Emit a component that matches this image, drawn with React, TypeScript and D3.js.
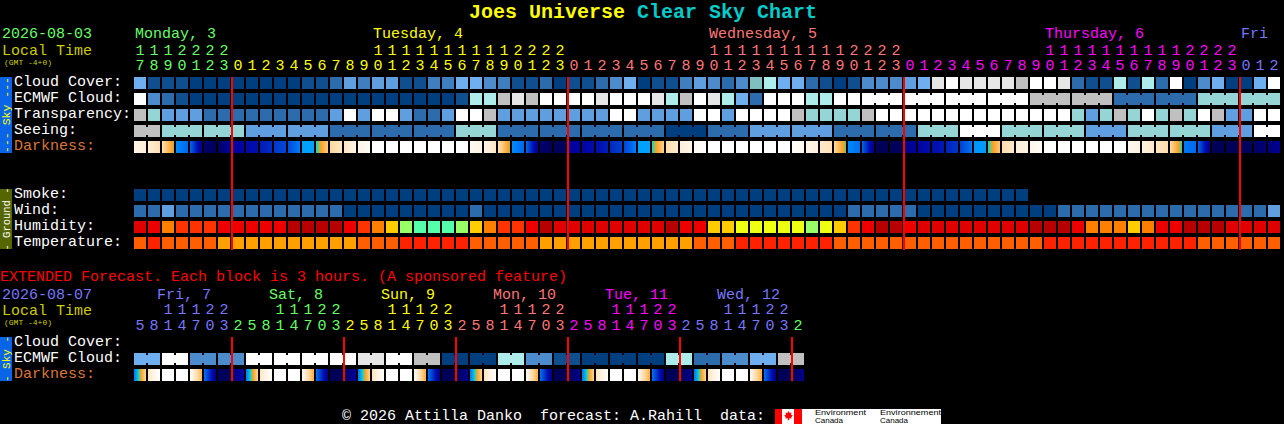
import * as d3 from "d3";

const width = 1284;
const height = 424;

// cloud / transparency / seeing share one palette, index = level in the arrays below
const skyPalette = [
  "#003f7f", "#0f4f8f", "#2c6cad", "#3f7fbf", "#4c8ccc", "#5f9fdf", "#6fafef",
  "#7fbfbf", "#95d5d5", "#aeecec", "#c0c0c0", "#e6e6e6", "#ffffff",
];
const humidityPalette = ["#b80000", "#e00000", "#ee0000", "#ff3300", "#ff8000", "#ffcc00", "#eeff11", "#99ff66", "#55ffaa"];
const temperaturePalette = ["#ff2200", "#ff5f00", "#ffa000"];

const cloudCover = [
  6, 1, 1, 1, 0, 0, 0, 0, 0, 0, 0, 0, 1, 1, 2, 5, 3, 5, 5, 1, 1,
  3, 3, 6, 6, 4, 3, 1, 1, 2, 0, 1, 1, 2, 4, 6, 0, 1, 1, 3, 5, 4, 2, 4, 7, 9, 6, 6, 2, 1, 0, 1,
  4, 4, 4, 5, 6, 11, 12, 11, 11, 11, 11, 10, 12, 12, 11, 2, 1, 1, 9, 1, 9, 2, 12, 0, 4, 6, 0, 0, 6, 12,
];
const ecmwfHourly = [
  12, 4, 2, 1, 0, 0, 0, 0, 0, 0, 0, 0, 0, 0, 0, 0, 0, 0, 0, 0, 0, 0, 0, 1, 9, 9,
  10, 11, 10, 12, 12, 12, 12, 11, 12, 12, 12, 11, 9, 10, 12, 11, 9, 6, 2, 12, 12, 12, 9, 9, 12, 12,
];
const ecmwfBlocks = [12, 12, 12, 12, 10, 10, 2, 2, 8, 8];
const transparency = [
  10, 8, 5, 5, 5, 2, 2, 2, 2, 2, 2, 2, 2, 2, 5, 12, 5, 12, 12, 5, 2,
  2, 5, 12, 12, 10, 5, 5, 5, 5, 5, 5, 5, 5, 12, 12, 5, 5, 5, 5, 12, 12, 5, 12, 12, 12, 12, 10, 8, 8, 8, 8,
  10, 12, 12, 12, 12, 12, 12, 12, 12, 12, 12, 12, 12, 12, 12, 8, 5, 8, 10, 8, 12, 8, 10, 8, 12, 10, 5, 5, 12, 12,
];
const seeingBlocks = [10, 8, 8, 5, 5, 2, 2, 2, 8, 2, 2, 2, 2, 0, 2, 5, 5, 2, 2, 8, 12, 8, 8, 5, 8, 8, 5, 12];
const seeingSizes = [2, 3, 3, 3, 3, 3, 3, 3, 3, 3, 3, 3, 3, 3, 3, 3, 3, 3, 3, 3, 3, 3, 3, 3, 3, 3, 3, 2];

// darkness value at the left and right edge of every block, 0 = deep night, 10 = daylight
const darkFrom = [
  9.3, 8.9, 8.3, 4.6, 4.0, 0.4, 0.2, 1.0, 1.5, 2.2, 2.8, 3.3, 5.0, 5.6, 8.0, 8.6, 9.3,
  10, 10, 10, 10, 10, 10, 10, 9.6, 9.2, 8.4, 4.6, 4.0, 0.4, 0.1, 0.9, 1.2, 1.9, 2.5, 3.2, 5.0, 5.6, 8.2, 8.9, 9.7,
  10, 10, 10, 10, 10, 10, 9.8, 9.3, 8.7, 8.0, 4.6, 3.9, 0.1, 0.1, 0.6, 1.2, 1.8, 2.4, 3.0, 4.8, 5.6, 8.2, 8.9, 9.4,
  10, 10, 10, 10, 10, 10, 9.5, 9.1, 8.6, 8.1, 4.3, 3.9, 0.1, 0.1, 0.1, 0.3, 0.5,
];
const darkTo = [
  8.9, 8.3, 6.1, 4.0, 0.6, 0.1, 1.0, 1.3, 2.0, 2.6, 3.2, 4.4, 5.0, 7.6, 8.6, 9.2, 9.7,
  10, 10, 10, 10, 10, 10, 10, 9.2, 8.6, 6.1, 4.0, 0.6, 0.1, 0.2, 1.1, 1.7, 2.3, 3.0, 4.4, 5.0, 7.8, 8.8, 9.4, 9.9,
  10, 10, 10, 10, 10, 10, 9.6, 9.0, 8.4, 5.9, 4.1, 0.6, 0.1, 0.2, 1.1, 1.7, 2.2, 2.8, 4.3, 4.9, 7.5, 8.7, 9.2, 9.8,
  10, 10, 10, 10, 10, 10, 9.2, 8.7, 8.2, 5.7, 4.0, 0.6, 0.1, 0.1, 0.2, 0.5, 0.9,
];
const darkStops = [0, 1, 2, 3, 4, 5, 5.6, 6, 6.4, 8, 9, 10];
const darkColors = [
  "#000050", "#0000a0", "#0010b0", "#0040d0", "#0068f0", "#00a0ff",
  "#00d8d0", "#80c070", "#ffa020", "#ffd8a0", "#fff0dc", "#ffffff",
];

const smoke = new Array<number>(64).fill(0);
const wind = [
  2, 2, 5, 2, 2, 2, 2, 2, 2, 2, 2, 2, 2, 2, 2, 0, 0, 0, 0, 0, 0,
  0, 0, 0, 2, 0, 0, 0, 0, 0, 0, 0, 0, 0, 0, 0, 0, 0, 0, 0, 0, 0, 0, 0, 0, 0, 0, 0, 0, 0, 0, 2,
  2, 2, 2, 2, 0, 0, 0, 0, 0, 0, 0, 0, 0, 0, 2, 2, 2, 2, 2, 2, 2, 2, 2, 2, 2, 2, 2, 2, 2, 5,
];
const humidity = [
  1, 2, 4, 3, 3, 3, 2, 2, 2, 2, 2, 0, 0, 0, 0, 2, 3, 4, 5, 7, 8,
  8, 8, 7, 5, 4, 3, 3, 2, 0, 1, 1, 1, 1, 1, 1, 1, 1, 0, 2, 2, 5, 5, 6, 6, 6, 6, 6, 7, 6, 5, 3,
  2, 0, 0, 2, 1, 1, 1, 1, 1, 1, 1, 1, 0, 0, 0, 2, 4, 4, 4, 5, 4, 2, 2, 0, 0, 0, 1, 1, 1, 1,
];
const temperature = [
  1, 0, 1, 1, 1, 1, 2, 2, 2, 2, 2, 2, 2, 2, 2, 2, 1, 1, 1, 0, 0,
  0, 0, 0, 1, 1, 1, 1, 1, 2, 2, 2, 2, 2, 2, 2, 2, 2, 2, 2, 1, 1, 1, 0, 0, 0, 0, 0, 0, 0, 1, 1,
  1, 1, 1, 1, 1, 1, 1, 1, 1, 1, 1, 1, 1, 0, 0, 0, 0, 0, 0, 0, 0, 0, 0, 0, 1, 1, 1, 1, 1, 1,
];

const dayColors = { mon: "#66ff66", tue: "#ffff00", wed: "#ff7777", thu: "#ff00ff", fri: "#7777ff" };

const mainHours = [
  7, 8, 9, 0, 1, 2, 3, 0, 1, 2, 3, 4, 5, 6, 7, 8, 9, 0, 1, 2, 3, 4, 5, 6, 7, 8, 9, 0, 1, 2, 3,
  0, 1, 2, 3, 4, 5, 6, 7, 8, 9, 0, 1, 2, 3, 4, 5, 6, 7, 8, 9, 0, 1, 2, 3,
  0, 1, 2, 3, 4, 5, 6, 7, 8, 9, 0, 1, 2, 3, 4, 5, 6, 7, 8, 9, 0, 1, 2, 3, 0, 1, 2,
];
const mainTens = [
  "1", "1", "1", "2", "2", "2", "2", "", "", "", "", "", "", "", "", "", "",
  "1", "1", "1", "1", "1", "1", "1", "1", "1", "1", "2", "2", "2", "2",
  "", "", "", "", "", "", "", "", "", "",
  "1", "1", "1", "1", "1", "1", "1", "1", "1", "1", "2", "2", "2", "2",
  "", "", "", "", "", "", "", "", "", "",
  "1", "1", "1", "1", "1", "1", "1", "1", "1", "1", "2", "2", "2", "2",
  "", "", "",
];
const mainHourDays = [
  { key: "mon", count: 7 }, { key: "tue", count: 24 }, { key: "wed", count: 24 }, { key: "thu", count: 24 }, { key: "fri", count: 3 },
];
const mainDays = [
  { label: "Monday, 3", col: 0, key: "mon" },
  { label: "Tuesday, 4", col: 17, key: "tue" },
  { label: "Wednesday, 5", col: 41, key: "wed" },
  { label: "Thursday, 6", col: 65, key: "thu" },
  { label: "Fri", col: 79, key: "fri" },
];
const mainMidnights = [7, 31, 55, 79];

const extEcmwf = [6, 12, 4, 4, 12, 12, 12, 12, 11, 12, 10, 0, 0, 9, 4, 1, 0, 0, 0, 9, 2, 4, 6, 10];
const extDarkFrom = [
  4.2, 8.6, 10, 10, 9.8, 4.2, 0.2, 0.4,
  4.2, 8.6, 10, 10, 9.6, 4.2, 0.1, 0.2,
  4.2, 8.5, 10, 10, 9.6, 4.2, 0.1, 0.1,
  4.2, 8.5, 10, 10, 9.6, 4.2, 0.1, 0.1,
  4.2, 8.5, 10, 10, 9.5, 4.2, 0.1, 0.1,
  4.2, 8.5, 10, 10, 9.5, 4.2, 0.1, 0.1,
];
const extDarkTo = [
  8.0, 10, 10, 10, 7.0, 0.6, 0.1, 1.3,
  8.0, 9.9, 10, 10, 6.8, 0.6, 0.1, 1.0,
  7.9, 9.9, 10, 10, 6.8, 0.6, 0.1, 0.8,
  7.9, 9.9, 10, 10, 6.8, 0.6, 0.1, 0.8,
  7.9, 9.9, 10, 10, 6.8, 0.6, 0.1, 0.8,
  7.9, 9.9, 10, 10, 6.8, 0.6, 0.1, 0.8,
];
const extHours = [
  5, 8, 1, 4, 7, 0, 3, 2, 5, 8, 1, 4, 7, 0, 3, 2, 5, 8, 1, 4, 7, 0, 3, 2,
  5, 8, 1, 4, 7, 0, 3, 2, 5, 8, 1, 4, 7, 0, 3, 2, 5, 8, 1, 4, 7, 0, 3, 2,
];
const extTens = ["1", "1", "1", "2", "2"];
const extHourDays = [
  { key: "fri", count: 7 }, { key: "mon", count: 8 }, { key: "tue", count: 8 }, { key: "wed", count: 8 },
  { key: "thu", count: 8 }, { key: "fri", count: 8 }, { key: "mon", count: 1 },
];
const extDays = [
  { label: "Fri, 7", key: "fri" }, { label: "Sat, 8", key: "mon" }, { label: "Sun, 9", key: "tue" },
  { label: "Mon, 10", key: "wed" }, { label: "Tue, 11", key: "thu" }, { label: "Wed, 12", key: "fri" },
];
const extMidnights = [7, 15, 23, 31, 39, 47];

const skyLabels = ["Cloud Cover:", "ECMWF Cloud:", "Transparency:", "Seeing:", "Darkness:"];
const groundLabels = ["Smoke:", "Wind:", "Humidity:", "Temperature:"];
const extLabels = ["Cloud Cover:", "ECMWF Cloud:", "Darkness:"];

const cellSize = 12;
const x = d3.scaleLinear().domain([0, 1]).range([134, 148]);
const skyY = d3.scaleLinear().domain([0, 1]).range([77, 93]);
const groundY = d3.scaleLinear().domain([0, 1]).range([189, 205]);
const extY = d3.scaleLinear().domain([0, 1]).range([337, 353]);

const skyColor = d3.scaleOrdinal<number, string>().domain(d3.range(skyPalette.length)).range(skyPalette);
const humidityColor = d3.scaleOrdinal<number, string>().domain(d3.range(humidityPalette.length)).range(humidityPalette);
const temperatureColor = d3.scaleOrdinal<number, string>().domain(d3.range(temperaturePalette.length)).range(temperaturePalette);
const darkColor = d3.scaleLinear<string>().domain(darkStops).range(darkColors).interpolate(d3.interpolateRgb);

interface Block {
  col: number;
  size: number;
  level: number;
}

const hourly = (values: number[], start = 0): Block[] =>
  values.map((level, i) => ({ col: start + i, size: 1, level }));

const grouped = (values: number[], sizes: (i: number) => number, start = 0): Block[] => {
  let col = start;
  return values.map((level, i) => {
    const b = { col, size: sizes(i), level };
    col += b.size;
    return b;
  });
};

// one row of squares; squares of the same forecast block are tied by a narrow bridge
const Row = ({ blocks, top, color }: { blocks: Block[]; top: number; color: (l: number) => string }) => (
  <g shapeRendering="crispEdges">
    {blocks.map((b) =>
      d3.range(b.size).map((k) => (
        <g key={b.col + k}>
          <rect x={x(b.col + k)} y={top} width={cellSize} height={cellSize} fill={color(b.level)} />
          {k < b.size - 1 && (
            <rect x={x(b.col + k) + cellSize} y={top + 2} width={x(1) - x(0) - cellSize} height={cellSize - 4} fill={color(b.level)} />
          )}
        </g>
      ))
    )}
  </g>
);

const DarkRow = ({ id, from, to, top }: { id: string; from: number[]; to: number[]; top: number }) => (
  <g shapeRendering="crispEdges">
    <defs>
      {from.map((f, i) => (
        <linearGradient key={i} id={`${id}${i}`}>
          {d3.range(0, 13).map((s) => (
            <stop key={s} offset={s / 12} stopColor={darkColor(f + ((to[i] - f) * s) / 12)} />
          ))}
        </linearGradient>
      ))}
    </defs>
    {from.map((_, i) => (
      <rect key={i} x={x(i)} y={top} width={cellSize} height={cellSize} fill={`url(#${id}${i})`} />
    ))}
  </g>
);

const Digits = ({ values, days, y }: { values: (string | number)[]; days: { key: string; count: number }[]; y: number }) => {
  const colorAt: string[] = days.flatMap((d) => new Array(d.count).fill(dayColors[d.key as keyof typeof dayColors]));
  return (
    <g textAnchor="middle" fontSize={15}>
      {values.map((v, i) => (
        <text key={i} x={x(i) + cellSize / 2} y={y} fill={colorAt[i]}>
          {v}
        </text>
      ))}
    </g>
  );
};

const SideBar = ({ top, bottom, fill, color, text, size }: { top: number; bottom: number; fill: string; color: string; text: string; size: number }) => (
  <g>
    <rect x={0} y={top} width={12} height={bottom - top} fill={fill} shapeRendering="crispEdges" />
    <text
      transform={`translate(9.5,${(top + bottom) / 2}) rotate(-90)`}
      textAnchor="middle"
      fontSize={size}
      fill={color}
      style={{ whiteSpace: "pre" }}
    >
      {text}
    </text>
  </g>
);

const Labels = ({ labels, y }: { labels: string[]; y: (i: number) => number }) => (
  <g fontSize={15}>
    {labels.map((l, i) => (
      <text key={l} x={14} y={y(i) + 9} fill={l === "Darkness:" ? "#dd7733" : "#ffffff"}>
        {l}
      </text>
    ))}
  </g>
);

const Midnights = ({ cols, top, bottom }: { cols: number[]; top: number; bottom: number }) => (
  <g shapeRendering="crispEdges">
    {cols.map((c) => (
      <rect key={c} x={x(c) - 1} y={top} width={2} height={bottom - top} fill="#ff0000" />
    ))}
  </g>
);

const App = () => {
  const extTensAll: string[] = d3.range(48).map((i) => {
    const k = (i + 6) % 8;
    return k < 5 ? extTens[k] : "";
  });

  return (
    <svg
      width={width}
      height={height}
      style={{ position: "absolute", left: 0, top: 0, background: "#000", fontFamily: "'Liberation Mono', monospace" }}
    >
      <text x={469} y={18} fontSize={20} fontWeight="bold" style={{ whiteSpace: "pre" }}>
        <tspan fill="#ffff00">Joes Universe </tspan>
        <tspan fill="#00cccc">Clear Sky Chart</tspan>
      </text>

      <text x={2} y={38} fontSize={15} fill="#66ff66">2026-08-03</text>
      <text x={2} y={55} fontSize={15} fill="#cccc00">Local Time</text>
      <text x={4} y={65} fontSize={8} fill="#cccc00">(GMT -4+0)</text>
      {mainDays.map((d) => (
        <text key={d.label} x={x(d.col) + 1} y={38} fontSize={15} fill={dayColors[d.key as keyof typeof dayColors]}>
          {d.label}
        </text>
      ))}
      <Digits values={mainTens} days={mainHourDays} y={55} />
      <Digits values={mainHours} days={mainHourDays} y={70} />

      <SideBar top={77} bottom={153} fill="#0a64e8" color="#ffff00" text="--- Sky ---" size={11.5} />
      <Labels labels={skyLabels} y={skyY} />
      <Row blocks={hourly(cloudCover)} top={skyY(0)} color={skyColor} />
      <Row blocks={hourly(ecmwfHourly)} top={skyY(1)} color={skyColor} />
      <Row blocks={grouped(ecmwfBlocks, () => 3, ecmwfHourly.length)} top={skyY(1)} color={skyColor} />
      <Row blocks={hourly(transparency)} top={skyY(2)} color={skyColor} />
      <Row blocks={grouped(seeingBlocks, (i) => seeingSizes[i])} top={skyY(3)} color={skyColor} />
      <DarkRow id="dark" from={darkFrom} to={darkTo} top={skyY(4)} />

      <SideBar top={189} bottom={249} fill="#556600" color="#ffffff" text="- Ground -" size={10.5} />
      <Labels labels={groundLabels} y={groundY} />
      <Row blocks={hourly(smoke)} top={groundY(0)} color={skyColor} />
      <Row blocks={hourly(wind)} top={groundY(1)} color={skyColor} />
      <Row blocks={hourly(humidity)} top={groundY(2)} color={humidityColor} />
      <Row blocks={hourly(temperature)} top={groundY(3)} color={temperatureColor} />
      <Midnights cols={mainMidnights} top={77} bottom={250} />

      <text x={0} y={281} fontSize={15} fill="#ff0000">
        EXTENDED Forecast. Each block is 3 hours. (A sponsored feature)
      </text>
      <text x={2} y={299} fontSize={15} fill="#7777ff">2026-08-07</text>
      <text x={2} y={315} fontSize={15} fill="#cccc00">Local Time</text>
      <text x={4} y={325} fontSize={8} fill="#cccc00">(GMT -4+0)</text>
      {extDays.map((d, i) => (
        <text key={d.label} x={x(1.64 + i * 8)} y={299} fontSize={15} fill={dayColors[d.key as keyof typeof dayColors]}>
          {d.label}
        </text>
      ))}
      <Digits values={extTensAll} days={extHourDays} y={314} />
      <Digits values={extHours} days={extHourDays} y={330} />

      <SideBar top={337} bottom={381} fill="#0a64e8" color="#ffff00" text="- Sky -" size={11} />
      <Labels labels={extLabels} y={extY} />
      <Row blocks={grouped(extEcmwf, () => 2)} top={extY(1)} color={skyColor} />
      <DarkRow id="extdark" from={extDarkFrom} to={extDarkTo} top={extY(2)} />
      <Midnights cols={extMidnights} top={337} bottom={381} />

      <text x={342} y={420} fontSize={15} fill="#ffffff" style={{ whiteSpace: "pre" }}>
        © 2026 Attilla Danko  forecast: A.Rahill  data:
      </text>
      <g>
        <rect x={775} y={409} width={166} height={15} fill="#ffffff" shapeRendering="crispEdges" />
        <rect x={775} y={409} width={7} height={15} fill="#ff0000" shapeRendering="crispEdges" />
        <rect x={794} y={409} width={8} height={15} fill="#ff0000" shapeRendering="crispEdges" />
        <path d="M788.5 411l1.2 2 1.8-.6-.5 2.4 1.8.4-1.6 2.2.4 1.2-2.4-.3v2h-1.4v-2l-2.4.3.4-1.2-1.6-2.2 1.8-.4-.5-2.4 1.8.6z" fill="#ff0000" />
        <g fontFamily="'Liberation Sans', sans-serif" fontSize={7} fill="#000">
          <text x={815} y={415} textLength={51} lengthAdjust="spacingAndGlyphs">Environment</text>
          <text x={815} y={423} textLength={28} lengthAdjust="spacingAndGlyphs">Canada</text>
          <text x={880} y={415} textLength={61} lengthAdjust="spacingAndGlyphs">Environnement</text>
          <text x={880} y={423} textLength={28} lengthAdjust="spacingAndGlyphs">Canada</text>
        </g>
      </g>
    </svg>
  );
};

export default App;
